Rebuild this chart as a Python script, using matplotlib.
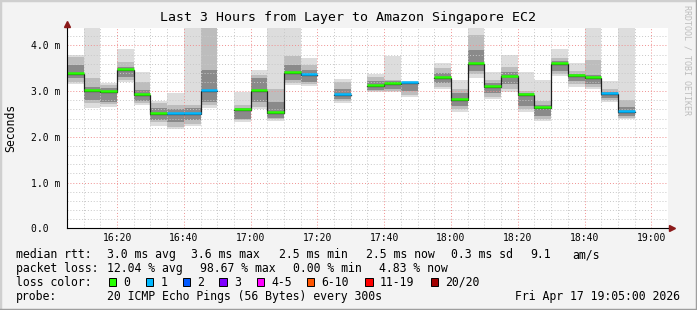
import numpy as np
import matplotlib
matplotlib.use('Agg')
import matplotlib.pyplot as plt
from matplotlib.patches import Rectangle
from matplotlib.lines import Line2D
from matplotlib.ticker import MultipleLocator, FuncFormatter

# 5 minute samples from 16:05 to 19:05, nan = no data
start_min = 16 * 60 + 5
n_steps = 36
median = [3.38, 3.00, 2.98, 3.47, 2.91, 2.50, 2.50, 2.50, 3.00, np.nan,
          2.58, 3.00, 2.52, 3.39, 3.35, np.nan, 2.91, np.nan, 3.11, 3.15,
          3.18, np.nan, 3.28, 2.80, 3.59, 3.09, 3.32, 2.91, 2.63, 3.59,
          3.33, 3.28, 2.94, 2.54, np.nan, np.nan]
lost = [0, 0, 0, 0, 0, 0, 1, 1, 1, 20, 0, 0, 0, 0, 1, 20, 1, 20, 0, 0,
        1, 20, 0, 0, 0, 0, 0, 0, 0, 0, 0, 0, 1, 1, 20, 20]
outer_lo = [3.15, 2.64, 2.66, 3.19, 2.69, 2.24, 2.17, 2.24, 2.64, np.nan,
            2.32, 2.61, 2.34, 3.13, 3.12, np.nan, 2.75, np.nan, 2.98, 2.97,
            2.88, np.nan, 3.05, 2.55, 3.29, 2.83, 2.99, 2.55, 2.35, 3.32,
            3.09, 3.05, 2.76, 2.38, np.nan, np.nan]
outer_hi = [3.80, 4.60, 3.18, 3.92, 3.41, 2.79, 2.96, 4.60, 4.60, np.nan,
            2.99, 3.46, 4.60, 4.60, 3.72, np.nan, 3.27, np.nan, 3.37, 3.77,
            3.23, np.nan, 3.61, 3.25, 4.60, 3.42, 3.80, 3.41, 3.25, 3.93,
            3.61, 4.60, 3.23, 4.60, np.nan, np.nan]
mid_lo = [3.20, 2.73, 2.71, 3.24, 2.73, 2.33, 2.22, 2.28, 2.69, np.nan,
          2.37, 2.66, 2.38, 3.17, 3.15, np.nan, 2.78, np.nan, 3.00, 3.00,
          2.92, np.nan, 3.10, 2.60, 3.37, 2.88, 3.05, 2.60, 2.40, 3.37,
          3.15, 3.10, 2.80, 2.42, np.nan, np.nan]
mid_hi = [3.74, 3.29, 3.13, 3.63, 3.20, 2.73, 2.70, 2.70, 4.50, np.nan,
          2.69, 3.36, 3.05, 3.77, 3.57, np.nan, 3.20, np.nan, 3.30, 3.25,
          3.20, np.nan, 3.50, 3.05, 4.22, 3.25, 3.52, 3.00, 2.78, 3.72,
          3.45, 3.68, 3.05, 2.81, np.nan, np.nan]
core_lo = [3.28, 2.80, 2.77, 3.31, 2.78, 2.37, 2.33, 2.36, 2.77, np.nan,
           2.40, 2.77, 2.42, 3.24, 3.20, np.nan, 2.82, np.nan, 3.03, 3.05,
           3.00, np.nan, 3.18, 2.68, 3.45, 2.96, 3.15, 2.68, 2.45, 3.45,
           3.22, 3.15, 2.85, 2.45, np.nan, np.nan]
core_hi = [3.57, 3.10, 3.06, 3.53, 3.02, 2.62, 2.60, 2.62, 3.46, np.nan,
           2.62, 3.28, 2.77, 3.57, 3.46, np.nan, 3.05, np.nan, 3.22, 3.22,
           3.18, np.nan, 3.40, 2.95, 3.90, 3.18, 3.42, 2.95, 2.70, 3.65,
           3.38, 3.35, 2.98, 2.65, np.nan, np.nan]

loss_labels = ['0', '1', '2', '3', '4-5', '6-10', '11-19', '20/20']
loss_colors = ['#26ff00', '#00b8ff', '#0059ff', '#7e00ff', '#ff00ff',
               '#ff5500', '#ff0000', '#a10000']

title = 'Last 3 Hours from Layer to Amazon Singapore EC2'
rtt_parts = ['median rtt:', '3.0 ms avg', '3.6 ms max', '2.5 ms min',
             '2.5 ms now', '0.3 ms sd', '9.1', 'am/s']
loss_parts = ['packet loss:', '12.04 % avg', '98.67 % max', '0.00 % min',
              '4.83 % now']
probe_parts = ['probe:', '20 ICMP Echo Pings (56 Bytes) every 300s']
stamp = 'Fri Apr 17 19:05:00 2026'

mono = 'DejaVu Sans Mono'
W, H = 697, 310


def px(x, y):
    return x / W, 1 - y / H


def loss_color(n):
    if n <= 3:
        return loss_colors[n]
    if n <= 5:
        return loss_colors[4]
    if n <= 10:
        return loss_colors[5]
    if n <= 19:
        return loss_colors[6]
    return loss_colors[7]


fig = plt.figure(figsize=(W / 100, H / 100), dpi=100, facecolor='#f3f3f3')
ax = fig.add_axes([67 / W, (H - 228.3) / H, 601 / W, 200.3 / H])
ax.set_facecolor('white')

x0 = start_min + 5 * np.arange(n_steps)
med = np.array(median)
ymax = 4.38

# smoke
for lo, hi, c in [(outer_lo, outer_hi, '#dddddd'),
                  (mid_lo, mid_hi, '#bdbdbd'),
                  (core_lo, core_hi, '#8a8a8a')]:
    lo = np.array(lo)
    hi = np.minimum(np.array(hi), ymax)
    ok = ~np.isnan(lo)
    ax.bar(x0[ok], (hi - lo)[ok], width=5, bottom=lo[ok], align='edge',
           color=c, lw=0, zorder=1)

# median: black step + loss coloured segments
xs = np.append(x0, x0[-1] + 5)
ax.step(xs, np.append(med, med[-1]), where='post', color='#202020',
        lw=0.9, zorder=3)
ok = ~np.isnan(med)
ax.hlines(med[ok] + 0.02, x0[ok], x0[ok] + 5,
          colors=[loss_color(lost[i]) for i in np.where(ok)[0]],
          lw=1.8, zorder=4)

ax.set_xlim(start_min, start_min + 5 * n_steps)
ax.set_ylim(0, ymax)

ax.xaxis.set_major_locator(MultipleLocator(20))
ax.xaxis.set_minor_locator(MultipleLocator(5))
ax.yaxis.set_major_locator(MultipleLocator(1.0))
ax.yaxis.set_minor_locator(MultipleLocator(0.2))
ax.xaxis.set_major_formatter(FuncFormatter(
    lambda v, p: '%02d:%02d' % (int(v) // 60, int(v) % 60)))
ax.yaxis.set_major_formatter(FuncFormatter(
    lambda v, p: '%.1f m' % v if v > 0 else '%.1f  ' % v))

ax.set_axisbelow(False)
ax.grid(which='minor', color='#c8c8c8', ls=(0, (1, 2)), lw=0.7)
ax.grid(which='major', color='#f09090', ls=(0, (1, 2)), lw=0.7)

ax.tick_params(which='both', length=0)
ax.tick_params(axis='x', pad=3.5, labelsize=7)
ax.tick_params(axis='y', pad=5, labelsize=7)
for lab in ax.get_xticklabels() + ax.get_yticklabels():
    lab.set_fontfamily(mono)

for s in ['top', 'right']:
    ax.spines[s].set_visible(False)
for s in ['left', 'bottom']:
    ax.spines[s].set_color('black')
    ax.spines[s].set_linewidth(0.8)
    ax.spines[s].set_zorder(5)

# axis arrows
ax.plot([start_min, start_min], [ymax, 4.47], color='black', lw=0.8, clip_on=False)
ax.plot([start_min], [4.47], marker='^', ms=4, color='#8b1a1a', clip_on=False, zorder=6)
xend = start_min + 5 * n_steps
ax.plot([xend, xend + 0.9], [0, 0], color='black', lw=0.8, clip_on=False)
ax.plot([xend + 1.2], [0], marker='>', ms=4, color='#8b1a1a', clip_on=False, zorder=6)

fig.text(*px(11, 127.5), 'Seconds', rotation=90, ha='center', va='center',
         fontfamily=mono, fontsize=8.3)
fig.text(*px(348, 18), title, ha='center', va='center', fontfamily=mono, fontsize=9.5)
fig.text(*px(687, 5), 'RRDTOOL / TOBI OETIKER', rotation=270, ha='center', va='top',
         fontfamily=mono, fontsize=6, color='#bdbdbd')

# legend block
for parts, xpos, ypos in [(rtt_parts, [16, 107.3, 191, 279.3, 366, 451, 530, 572.3], 254.5),
                          (loss_parts, [16, 107.3, 199.5, 292.7, 379], 268.3),
                          (probe_parts, [16, 107.3], 296.5)]:
    for t, x in zip(parts, xpos):
        fig.text(*px(x, ypos), t, va='center', fontfamily=mono, fontsize=8.3)
fig.text(*px(680, 296.5), stamp, ha='right', va='center', fontfamily=mono, fontsize=8.3)
fig.text(*px(16, 282), 'loss color:', va='center', fontfamily=mono, fontsize=8.3)

box_x = [108.7, 145.7, 182.7, 219.3, 256.7, 307, 365.3, 430.7]
for bx, lab, c in zip(box_x, loss_labels, loss_colors):
    fig.patches.append(Rectangle(px(bx, 286.3), 7.3 / W, 8.5 / H, facecolor=c,
                                 edgecolor='black', lw=0.7, transform=fig.transFigure))
    fig.text(*px(bx + 14.7, 282), lab, va='center', fontfamily=mono, fontsize=8.3)

# frame shading
fig.lines.append(Line2D([0, 0, 1], [0, 1, 1], color='#cfcfcf', lw=2.5, transform=fig.transFigure))
fig.lines.append(Line2D([0, 1, 1], [0, 0, 1], color='#9e9e9e', lw=2.5, transform=fig.transFigure))

fig.savefig('out.png', dpi=100, facecolor=fig.get_facecolor())
